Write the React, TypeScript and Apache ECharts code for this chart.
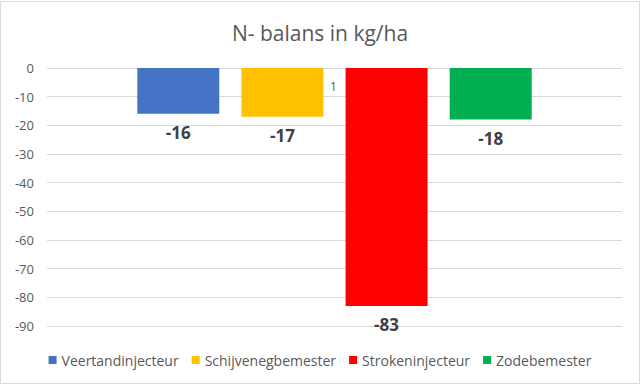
import React, { useEffect, useRef } from "react";
import * as echarts from "echarts";

const categories = ["N"];
const seriesNames = ["Veertandinjecteur", "Schijvenegbemester", "Strokeninjecteur", "Zodebemester"];
const seriesValues = [-16, -17, -83, -18];
const seriesColors = ["#4472C4", "#FFC000", "#FF0000", "#00B050"];
const yTicks = { min: -90, max: 0, interval: 10 };

export default function App() {
  const ref = useRef<HTMLDivElement>(null);
  useEffect(() => {
    document.body.style.margin = "0";
    const chart = echarts.init(ref.current!, null, { renderer: "svg" });
    const font = "'Open Sans', 'Noto Sans', sans-serif";
    chart.setOption({
      animation: false,
      backgroundColor: "#ffffff",
      title: {
        text: "N- balans in kg/ha",
        left: "center",
        top: 17,
        textStyle: { fontFamily: font, fontSize: 21, fontWeight: "normal", color: "#595959" },
      },
      legend: {
        bottom: 15,
        left: "center",
        itemWidth: 8,
        itemHeight: 8,
        itemGap: 13,
        icon: "rect",
        textStyle: { fontFamily: font, fontSize: 14, color: "#595959" },
        data: seriesNames,
      },
      grid: { left: 47, right: 18, top: 68, bottom: 61, containLabel: false },
      xAxis: {
        type: "category",
        data: categories,
        axisLine: { show: false },
        axisTick: { show: false },
        axisLabel: { show: false },
      },
      yAxis: {
        type: "value",
        min: yTicks.min,
        max: yTicks.max,
        interval: yTicks.interval,
        axisLine: { show: false },
        axisTick: { show: false },
        splitLine: { lineStyle: { color: "#D9D9D9", width: 1 } },
        axisLabel: { fontFamily: font, fontSize: 13, color: "#595959", margin: 13 },
      },
      graphic: [
        {
          type: "rect",
          shape: { x: 0.5, y: 1.5, width: 639, height: 382 },
          style: { fill: "none", stroke: "#D9D9D9", lineWidth: 1 },
          silent: true,
        },
        {
          type: "text",
          left: 330,
          top: 80,
          style: { text: "1", fontFamily: font, fontSize: 12, fill: "#595959" },
        },
      ],
      series: seriesNames.map((name, i) => ({
        name,
        type: "bar",
        data: [seriesValues[i]],
        barWidth: 82,
        barGap: "27%",
        itemStyle: { color: seriesColors[i] },
        label: {
          show: true,
          position: "bottom",
          distance: 10,
          fontFamily: font,
          fontSize: 17,
          fontWeight: "bold",
          color: "#404040",
        },
      })),
    });
    return () => chart.dispose();
  }, []);
  return <div ref={ref} style={{ width: 640, height: 387 }} />;
}
